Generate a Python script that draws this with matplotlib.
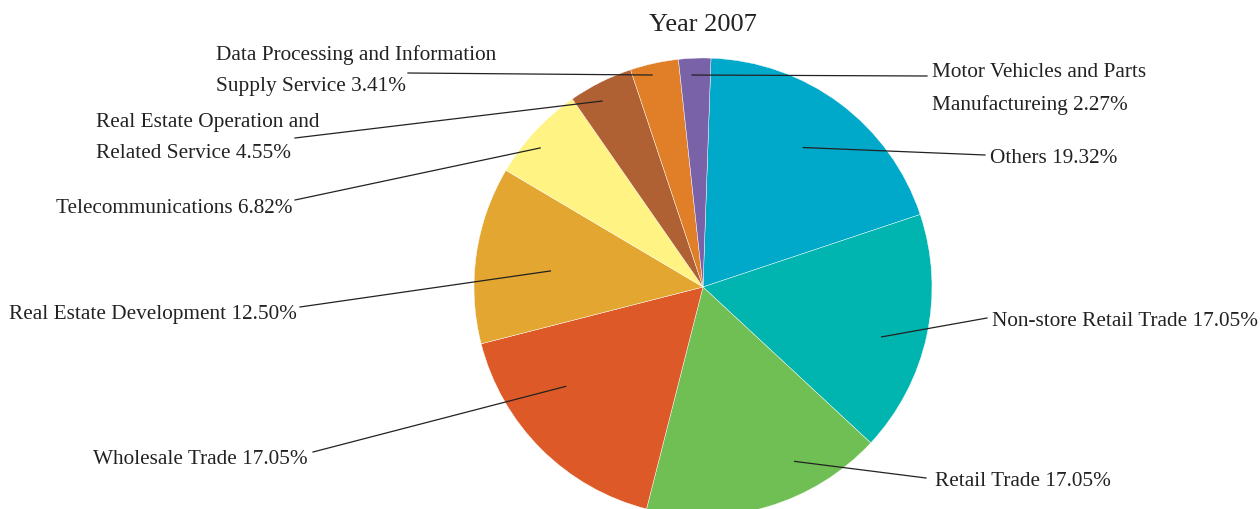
import matplotlib.pyplot as plt
import numpy as np

plt.rcParams['font.family'] = ['Liberation Serif', 'DejaVu Serif']

# data (clockwise from the top)
sectors = ["Others", "Non-store Retail Trade", "Retail Trade", "Wholesale Trade",
           "Real Estate Development", "Telecommunications",
           "Real Estate Operation and\nRelated Service",
           "Data Processing and Information\nSupply Service",
           "Motor Vehicles and Parts\nManufactureing"]
shares = [19.32, 17.05, 17.05, 17.05, 12.50, 6.82, 4.55, 3.41, 2.27]
colors = ["#00A8CA", "#00B4AF", "#70BF55", "#DD5A28", "#E3A630",
          "#FFF383", "#B06133", "#E07F27", "#7A62A8"]

# layout in image pixels (y measured from the top)
W, H = 1260, 509
cx, cy, R = 703, 287, 229
# where each leader line starts inside the pie: (angle deg, fraction of radius)
anchors = [(54.3, 0.75), (-15.6, 0.81), (-62.3, 0.86), (-144.1, 0.74), (174, 0.67),
           (139.5, 0.935), (118.5, 0.924), (103.5, 0.952), (93, 0.927)]
# leader end point, text x, text y, alignment
label_pos = [((985, 155), 990, 158, 'left'),
             ((987, 318), 992, 321, 'left'),
             ((926, 478), 935, 481, 'left'),
             ((313, 452), 308, 460, 'right'),
             ((300, 307), 297, 314, 'right'),
             ((295, 200), 292, 208, 'right'),
             ((295, 138), 96, 138, 'left'),
             ((408, 73), 216, 71, 'left'),
             ((927, 76), 932, 89, 'left')]

fig = plt.figure(figsize=(W / 100, H / 100), dpi=100)
ax = fig.add_axes([0, 0, 1, 1])

ax.pie(shares, colors=colors, startangle=88, counterclock=False,
       center=(cx, H - cy), radius=R, frame=True,
       wedgeprops=dict(edgecolor='white', linewidth=0.3))
ax.set_xlim(0, W)
ax.set_ylim(0, H)
ax.set_aspect('auto')
ax.axis('off')

for name, val, (ang, r), (end, tx, ty, ha) in zip(sectors, shares, anchors, label_pos):
    x0 = cx + r * R * np.cos(np.radians(ang))
    y0 = (H - cy) + r * R * np.sin(np.radians(ang))
    ax.plot([x0, end[0]], [y0, H - end[1]], color='#222222', lw=0.9)
    ax.text(tx, H - ty, f"{name} {val:.2f}%", ha=ha, va='center',
            fontsize=15.3, color='#222222', linespacing=1.86)

ax.text(cx, H - 25, "Year 2007", ha='center', va='center', fontsize=19, color='#222222')

fig.savefig("out.png", dpi=100)
